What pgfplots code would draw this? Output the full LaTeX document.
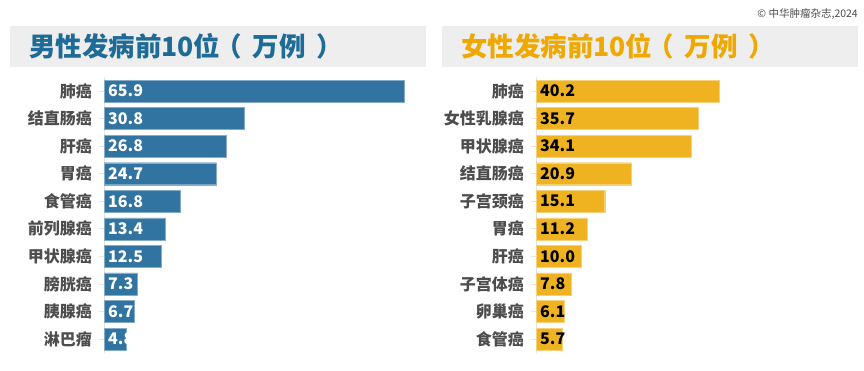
\documentclass[border=0pt]{standalone}
\usepackage{pgfplots}
\pgfplotsset{compat=1.18}
\usepackage{fontspec}
\setmainfont{Noto Sans CJK SC}
\definecolor{barblue}{HTML}{3274A1}
\definecolor{bargold}{HTML}{EFB321}
\definecolor{titleblue}{HTML}{1F6B98}
\definecolor{titlegold}{HTML}{EEA800}
\definecolor{bannergray}{HTML}{EEEEEE}
\definecolor{labelgray}{HTML}{4D4D4D}
\definecolor{axisgray}{HTML}{E3E3E3}
\pgfplotsset{
  panel/.style={
    anchor=south west, scale only axis,
    width=318.5pt, height=275.5pt,
    xmin=0, xmax=70, ymin=-0.5, ymax=9.5, y dir=reverse,
    axis x line=none, axis y line*=left,
    y axis line style={draw=axisgray, line width=0.8pt},
    ytick={0,...,9},
    major tick length=5pt, tick align=outside,
    ytick style={draw=axisgray, line width=0.8pt},
    yticklabel style={font=\bfseries\fontsize{16}{18}\selectfont, text=labelgray, inner sep=0pt, xshift=-7pt},
    clip=false,
  },
}
\begin{document}
\begin{tikzpicture}[x=1pt,y=1pt]
\fill[white] (0,0) rectangle (864,371);
\fill[bannergray] (10,304) rectangle (426,345);
\fill[bannergray] (442,304) rectangle (858,345);
\node[anchor=west, inner sep=0pt, font=\bfseries\fontsize{26.5}{28}\selectfont, text=titleblue] at (29,325) {男性发病前10位\hspace{-5pt}（\hspace{11pt}万例\hspace{11pt}）};
\node[anchor=west, inner sep=0pt, font=\bfseries\fontsize{26.5}{28}\selectfont, text=titlegold] at (461,325) {女性发病前10位\hspace{-5pt}（\hspace{11pt}万例\hspace{11pt}）};
\node[anchor=east, inner sep=0pt, font=\fontsize{10.5}{12}\selectfont, text=labelgray] at (858,357) {© 中华肿瘤杂志,2024};

\begin{axis}[panel, at={(104pt,18.2pt)},
  yticklabels={肺癌,结直肠癌,肝癌,胃癌,食管癌,前列腺癌,甲状腺癌,膀胱癌,胰腺癌,淋巴瘤}]
\addplot[xbar, bar width=22pt, bar shift=0pt, fill=barblue, draw=barblue!60!white, line width=0.4pt]
  coordinates {(65.9,0) (30.8,1) (26.8,2) (24.7,3) (16.8,4) (13.4,5) (12.5,6) (7.3,7) (6.7,8) (4.8,9)};
\addplot[draw=none, nodes near coords, point meta=explicit symbolic,
  nodes near coords style={anchor=west, text=white, inner sep=0pt, xshift=4pt, font=\bfseries\fontsize{16}{18}\selectfont}]
  coordinates {(0,0)[65.9] (0,1)[30.8] (0,2)[26.8] (0,3)[24.7] (0,4)[16.8] (0,5)[13.4] (0,6)[12.5] (0,7)[7.3] (0,8)[6.7] (0,9)[4.8]};
\end{axis}

\begin{axis}[panel, at={(536pt,18.2pt)},
  yticklabels={肺癌,女性乳腺癌,甲状腺癌,结直肠癌,子宫颈癌,胃癌,肝癌,子宫体癌,卵巢癌,食管癌}]
\addplot[xbar, bar width=22pt, bar shift=0pt, fill=bargold, draw=bargold!60!white, line width=0.4pt]
  coordinates {(40.2,0) (35.7,1) (34.1,2) (20.9,3) (15.1,4) (11.2,5) (10.0,6) (7.8,7) (6.1,8) (5.7,9)};
\addplot[draw=none, nodes near coords, point meta=explicit symbolic,
  nodes near coords style={anchor=west, text=black, inner sep=0pt, xshift=4pt, font=\bfseries\fontsize{16}{18}\selectfont}]
  coordinates {(0,0)[40.2] (0,1)[35.7] (0,2)[34.1] (0,3)[20.9] (0,4)[15.1] (0,5)[11.2] (0,6)[10.0] (0,7)[7.8] (0,8)[6.1] (0,9)[5.7]};
\end{axis}
\end{tikzpicture}
\end{document}
